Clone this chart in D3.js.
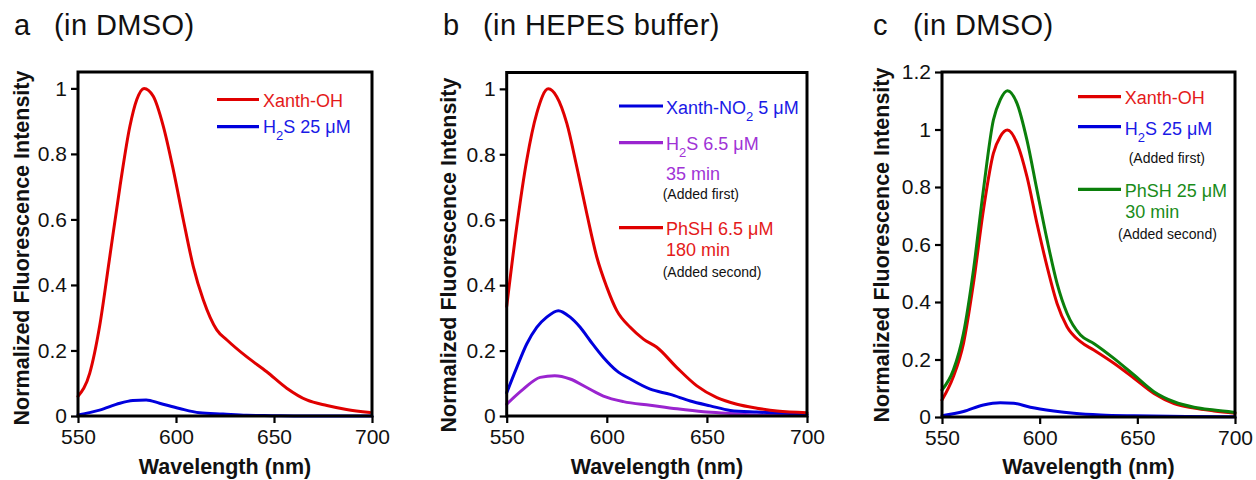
<!DOCTYPE html>
<html><head><meta charset="utf-8">
<script src="https://cdn.jsdelivr.net/npm/d3@7"></script>
<style>body{margin:0;background:#fff} svg{display:block;font-family:"Liberation Sans",Arial,sans-serif}</style>
</head><body><svg id="chart" width="1256" height="480"></svg>
<script>
// ---------- data ----------
const xTicks = [550, 600, 650, 700];
const yTicksAB = [0, 0.2, 0.4, 0.6, 0.8, 1];
const yTicksC = [0, 0.2, 0.4, 0.6, 0.8, 1, 1.2];

// panel a (in DMSO)
const aXanthOH = [[550,0.06],[556,0.131],[561,0.273],[566,0.477],[571.4,0.70],[576.5,0.885],[580,0.966],[583.7,1.0],[588.4,0.976],[593.5,0.885],[598.6,0.752],[603.7,0.6],[608.8,0.457],[613.9,0.355],[620.8,0.263],[626,0.232],[636,0.181],[646.3,0.135],[656.5,0.085],[666.7,0.049],[677,0.032],[687,0.02],[699,0.011]];
const aH2S = [[550,0.003],[561,0.018],[571.4,0.039],[578,0.047],[584.8,0.049],[591.6,0.039],[601.8,0.023],[612,0.01],[624,0.006],[636,0.002],[649,0.001],[665,0],[700,0]];

// panel b (in HEPES buffer)
const bPhSH = [[550,0.335],[555,0.578],[560,0.782],[565,0.925],[570.8,1.0],[575,0.976],[580,0.895],[585,0.762],[590,0.619],[595,0.486],[600,0.394],[605,0.322],[611.7,0.271],[618.3,0.235],[625,0.21],[635,0.148],[645,0.092],[655,0.056],[665,0.036],[675,0.024],[685,0.015],[700,0.01]];
const bXanthNO2 = [[550,0.071],[555,0.148],[560,0.22],[565,0.271],[570,0.302],[575.8,0.322],[581.7,0.302],[586.7,0.271],[591.7,0.23],[598.3,0.179],[605,0.138],[611.7,0.113],[621.7,0.082],[631.7,0.066],[641.7,0.046],[651.7,0.031],[661.7,0.017],[675,0.012],[691.7,0.008],[700,0.005]];
const bH2S = [[550,0.036],[558.3,0.082],[566.7,0.118],[574,0.123],[581.7,0.113],[590,0.087],[598.3,0.061],[608.3,0.044],[621.7,0.033],[635,0.022],[648.3,0.013],[661.7,0.008],[675,0.003],[700,0.002]];

// panel c (in DMSO)
const cXanthOH = [[550,0.059],[555.8,0.14],[561,0.256],[566.1,0.465],[571.2,0.72],[576.3,0.917],[579.8,0.975],[583.5,0.998],[588.4,0.952],[593.5,0.836],[598.6,0.674],[603.8,0.523],[608.9,0.395],[614,0.314],[620.9,0.262],[627.7,0.233],[638,0.187],[648.3,0.135],[658.5,0.082],[668.8,0.047],[679,0.031],[689.3,0.021],[700,0.013]];
const cH2S = [[550,0.004],[561,0.019],[571.2,0.042],[579.8,0.05],[586.7,0.048],[595.2,0.034],[607.2,0.021],[617.5,0.013],[631.2,0.007],[648.3,0.004],[675,0.002],[700,0.001]];
const cPhSH = [[550,0.094],[555.8,0.163],[561,0.291],[566.1,0.511],[571.2,0.79],[576.3,1.033],[579.8,1.103],[583.5,1.135],[588.4,1.091],[593.5,0.963],[598.6,0.79],[603.8,0.616],[608.9,0.465],[614,0.361],[620.9,0.285],[627.7,0.256],[638,0.204],[648.3,0.146],[658.5,0.088],[668.8,0.053],[679,0.034],[689.3,0.024],[700,0.016]];

// ---------- styles ----------
const RED = "#e00000", BLUE = "#0000dd", PURPLE = "#9a24cf", GREEN = "#0b7f0b";
const RED_T = "#e41a1a", BLUE_T = "#1a1ae6", PURPLE_T = "#a033d6", GREEN_T = "#1a8c1a";

const panels = [
  { letter:"a", title:"(in DMSO)", lx:14, tx:54,
    left:78, right:372, top:72, bottom:416, ymax:1.05, yTicks:yTicksAB,
    ytx:29, yty:248,
    series:[{d:aH2S,c:BLUE},{d:aXanthOH,c:RED}],
    legX1:217, legX2:259, legTx:263,
    legend:[
      {line:RED, ly:99.5, rows:[{y:106.5,x:0,c:RED_T,s:18,parts:[{t:"Xanth-OH"}]}]},
      {line:BLUE, ly:126.7, rows:[{y:133.3,x:0,c:BLUE_T,s:18,parts:[{t:"H"},{t:"2",sub:1},{t:"S 25 μM"}]}]}
    ]},
  { letter:"b", title:"(in HEPES buffer)", lx:443, tx:483,
    left:506.7, right:807, top:72.5, bottom:416, ymax:1.05, yTicks:yTicksAB,
    ytx:456, yty:255,
    series:[{d:bH2S,c:PURPLE},{d:bXanthNO2,c:BLUE},{d:bPhSH,c:RED}],
    legX1:619, legX2:663, legTx:666,
    legend:[
      {line:BLUE, ly:106, rows:[{y:114,x:0,c:BLUE_T,s:18,parts:[{t:"Xanth-NO"},{t:"2",sub:1},{t:" 5 μM"}]}]},
      {line:PURPLE, ly:142.7, rows:[
        {y:150,x:0,c:PURPLE_T,s:18,parts:[{t:"H"},{t:"2",sub:1},{t:"S 6.5 μM"}]},
        {y:180,x:0,c:PURPLE_T,s:18,parts:[{t:"35 min"}]},
        {y:198.5,x:-3.3,c:"#111",s:14,parts:[{t:"(Added first)"}]}]},
      {line:RED, ly:227.7, rows:[
        {y:235,x:0,c:RED_T,s:18,parts:[{t:"PhSH 6.5 μM"}]},
        {y:256,x:0,c:RED_T,s:18,parts:[{t:"180 min"}]},
        {y:276.7,x:-3.3,c:"#111",s:14,parts:[{t:"(Added second)"}]}]}
    ]},
  { letter:"c", title:"(in DMSO)", lx:873, tx:913,
    left:942, right:1235, top:72, bottom:417, ymax:1.2, yTicks:yTicksC,
    ytx:889, yty:245,
    series:[{d:cH2S,c:BLUE},{d:cXanthOH,c:RED},{d:cPhSH,c:GREEN}],
    legX1:1078, legX2:1121, legTx:1124.7,
    legend:[
      {line:RED, ly:96.7, rows:[{y:104,x:0,c:RED_T,s:18,parts:[{t:"Xanth-OH"}]}]},
      {line:BLUE, ly:126.7, rows:[
        {y:134.5,x:0,c:BLUE_T,s:18,parts:[{t:"H"},{t:"2",sub:1},{t:"S 25 μM"}]},
        {y:162.7,x:4,c:"#111",s:14,parts:[{t:"(Added first)"}]}]},
      {line:GREEN, ly:189.3, rows:[
        {y:196.7,x:0,c:GREEN_T,s:18,parts:[{t:"PhSH 25 μM"}]},
        {y:218.3,x:0.6,c:GREEN_T,s:18,parts:[{t:"30 min"}]},
        {y:238.5,x:-6.7,c:"#111",s:14,parts:[{t:"(Added second)"}]}]}
    ]}
];

const svg = d3.select("#chart");

function addText(g, x, y, parts, color, size){
  const t = g.append("text").attr("x", x).attr("y", y).attr("fill", color).style("font-size", size + "px");
  let prevSub = false;
  parts.forEach(p => {
    const ts = t.append("tspan").text(p.t);
    if (p.sub) { ts.attr("dy", 7).style("font-size", "13px"); prevSub = true; }
    else if (prevSub) { ts.attr("dy", -7); prevSub = false; }
  });
  return t;
}

panels.forEach(p => {
  const g = svg.append("g");
  const x = d3.scaleLinear().domain([550, 700]).range([p.left, p.right]);
  const y = d3.scaleLinear().domain([0, p.ymax]).range([p.bottom, p.top]);

  // titles
  g.append("text").attr("x", p.lx).attr("y", 35).style("font-size", "29px").attr("fill", "#111").text(p.letter);
  g.append("text").attr("x", p.tx).attr("y", 35).style("font-size", "29px").style("letter-spacing", "0.4px").attr("fill", "#111").text(p.title);

  // curves
  const line = d3.line().x(d => x(d[0])).y(d => y(d[1])).curve(d3.curveMonotoneX);
  p.series.forEach(s => {
    g.append("path").attr("d", line(s.d)).attr("fill", "none").attr("stroke", s.c)
      .attr("stroke-width", 3).attr("stroke-linejoin", "round").attr("stroke-linecap", "round");
  });

  // axes
  const xa = g.append("g").attr("transform", `translate(0,${p.bottom})`)
    .call(d3.axisBottom(x).tickValues(xTicks).tickSize(7).tickPadding(6).tickFormat(d => String(d)));
  const ya = g.append("g").attr("transform", `translate(${p.left},0)`)
    .call(d3.axisLeft(y).tickValues(p.yTicks).tickSize(7).tickPadding(4).tickFormat(d => String(d)));
  [xa, ya].forEach(a => {
    a.select(".domain").remove();
    a.selectAll("line").attr("stroke", "#000").attr("stroke-width", 2.2);
    a.selectAll("text").style("font-size", "21px").attr("fill", "#111").style("font-family", '"Liberation Sans",Arial,sans-serif');
  });

  // frame
  g.append("rect").attr("x", p.left).attr("y", p.top).attr("width", p.right - p.left).attr("height", p.bottom - p.top)
    .attr("fill", "none").attr("stroke", "#000").attr("stroke-width", 3);

  // axis titles
  g.append("text").attr("x", (p.left + p.right) / 2).attr("y", 474).attr("text-anchor", "middle")
    .style("font-size", "21.5px").style("font-weight", "bold").attr("fill", "#111").text("Wavelength (nm)");
  g.append("text").attr("transform", `translate(${p.ytx},${p.yty}) rotate(-90)`).attr("text-anchor", "middle")
    .style("font-size", "21.5px").style("font-weight", "bold").attr("fill", "#111").text("Normalized Fluorescence Intensity");

  // legend
  p.legend.forEach(item => {
    g.append("line").attr("x1", p.legX1).attr("x2", p.legX2).attr("y1", item.ly).attr("y2", item.ly)
      .attr("stroke", item.line).attr("stroke-width", 3.2);
    item.rows.forEach(r => addText(g, p.legTx + r.x, r.y, r.parts, r.c, r.s));
  });
});
</script>
</body></html>
